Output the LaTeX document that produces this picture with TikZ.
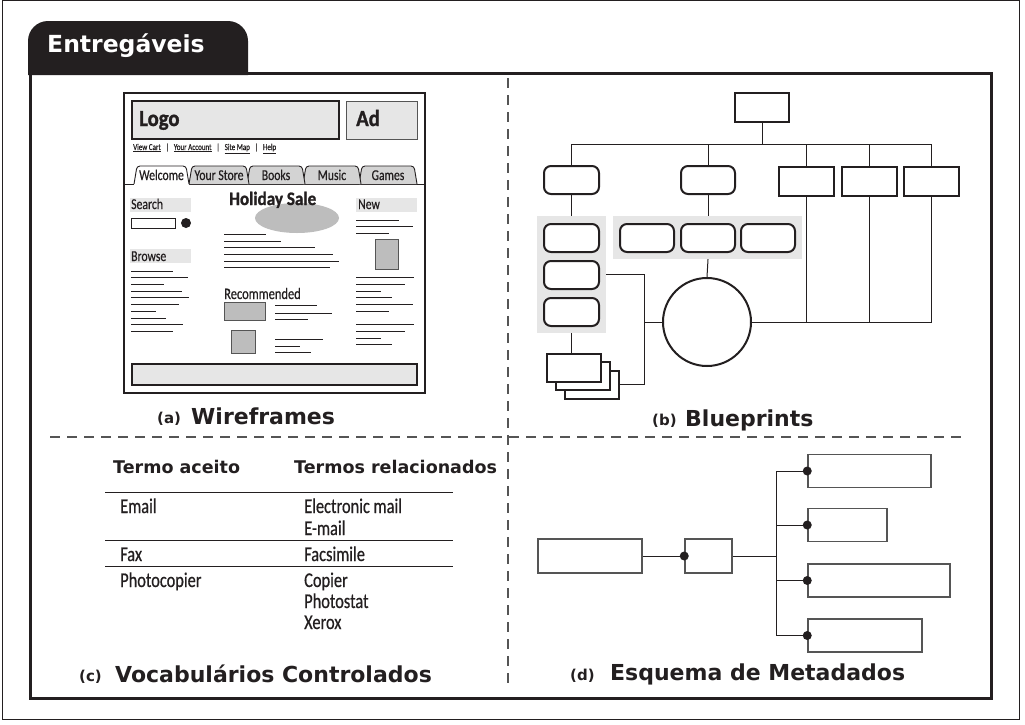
\documentclass[tikz,border=0pt]{standalone}
\usepackage{fontspec}
\setmainfont{DejaVu Sans}
\newfontfamily\cf{Carlito}[FakeStretch=0.78, FakeBold=0.5]
\newfontfamily\cfb{Carlito}[FakeStretch=0.9, BoldFeatures={FakeBold=1.2}]
\definecolor{ink}{HTML}{231F20}
\definecolor{lgray}{HTML}{E6E6E6}
\definecolor{mgray}{HTML}{BDBDBD}
\definecolor{tgray}{HTML}{D3D3D3}
\definecolor{dgray}{HTML}{555555}
\newcommand\fs[1]{\fontsize{#1}{#1}\selectfont}
\newcommand\wftab[5]{%
  \draw[ink, line width=0.9pt, fill=#3, rounded corners=3pt] (#1,184) -- (#1+3,166) -- (#2-3,166) -- (#2,184);
  \node[tablbl] (#5) at ({(#1+#2)/2},180) {#4};}
\newcommand\lsep{\hspace{0.55em}|\hspace{0.55em}}
\begin{document}
\begin{tikzpicture}[x=1pt,y=-1pt,
  captxt/.style={font=\bfseries\fs{22}, anchor=base west, inner sep=0pt, text=ink},
  capl/.style={font=\bfseries\fs{15}, anchor=base west, inner sep=0pt, text=ink},
  hdr/.style={font=\bfseries\fs{17.5}, anchor=base west, inner sep=0pt, text=ink},
  cell/.style={font=\cf\fs{21}, anchor=base west, inner sep=0pt, text=ink},
  wtxt/.style={font=\cf\fs{15}, anchor=base west, inner sep=0pt, text=ink},
  tablbl/.style={font=\cf\fs{15}, anchor=base, inner sep=0pt, text=ink},
  wl/.style={ink, line width=1pt},
  conn/.style={ink, line width=1pt},
  bpbox/.style={draw=ink, line width=2pt, fill=white, minimum width=54pt, minimum height=28pt, inner sep=0pt},
  bpround/.style={bpbox, rounded corners=7pt},
  panel/.style={fill=lgray, draw=none, inner sep=0pt},
  mdbox/.style={draw=dgray, line width=1.5pt, fill=white, minimum height=33pt, inner sep=0pt},
  mdot/.style={circle, fill=ink, inner sep=0pt, minimum size=9pt},
  sep/.style={dgray, line width=1.5pt, dash pattern=on 10pt off 7pt}]
\useasboundingbox (0,0) rectangle (1025,724);
\fill[white] (0,0) rectangle (1025,724);
% outer border
\draw[ink, line width=1pt] (2,0.8) rectangle (1019.5,719.5);
% tab
\fill[ink] (28,75) -- (28,41) arc[start angle=180, end angle=90, radius=20pt] -- (228,21) arc[start angle=90, end angle=0, radius=20pt] -- (248,75) -- cycle;
\node[font=\bfseries\fs{23.5}, text=white, anchor=base west, inner sep=0pt] (title) at (47,52) {Entregáveis};
% main frame
\draw[ink, line width=3pt] (30,73) rectangle (991,698);
% separators
\coordinate (vt) at (508,78);
\coordinate (vb) at (508,690);
\coordinate (hl) at (50,437);
\coordinate (hr) at (968,437);
\draw[sep] (vt) -- (vb);
\draw[sep] (hl) -- (hr);

% ===== (a) Wireframe =====
\draw[ink, line width=2.5pt, fill=white] (124,93) rectangle (425,393);
\draw[ink, line width=1.5pt, fill=lgray] (132,101) rectangle (339,139);
\node[font=\cfb\bfseries\fs{23}, anchor=base west, inner sep=0pt, text=ink] (logo) at (139,126) {Logo};
\draw[dgray, line width=1pt, fill=lgray] (346,101) rectangle (417,139);
\node[font=\cfb\bfseries\fs{23}, anchor=base west, inner sep=0pt, text=ink] (ad) at (356,126) {Ad};
\node[font=\cf\fs{9}, anchor=base west, inner sep=0pt, text=ink] (links) at (133,150)
  {\underline{View Cart}\lsep\underline{Your Account}\lsep\underline{Site Map}\lsep\underline{Help}};
\draw[wl] (124,184) -- (134,184);
\draw[wl] (189,184) -- (425,184);
\wftab{359}{417}{tgray}{Games}{tgames}
\wftab{303}{361}{tgray}{Music}{tmusic}
\wftab{247}{305}{tgray}{Books}{tbooks}
\wftab{189}{249}{tgray}{Your Store}{tstore}
\wftab{134}{189}{white}{Welcome}{twelcome}
% left column
\fill[lgray] (130,198) rectangle (191,212);
\node[wtxt] (search) at (131,209) {Search};
\draw[ink, line width=1pt] (131,218) rectangle (175,228);
\fill[ink] (186,223) circle[radius=5pt];
\fill[lgray] (130,249) rectangle (191,263);
\node[wtxt] (browse) at (131,261) {Browse};
\foreach \y/\e in {271/173,277/188,284/164,291/182,297/189,304/179,311/156,318/166,324/183,331/173}
  \draw[wl] (131,\y) -- (\e,\y);
% centre column
\fill[mgray] (297,218) ellipse[x radius=42pt, y radius=15pt];
\node[font=\cfb\bfseries\fs{19}, anchor=base west, inner sep=0pt, text=ink] (sale) at (229,205) {Holiday Sale};
\foreach \y/\e in {234/266,241/281,247/315,254/333,261/339,267/330}
  \draw[wl] (224,\y) -- (\e,\y);
\node[font=\cf\fs{16}, anchor=base west, inner sep=0pt, text=ink] (recom) at (224,299) {Recommended};
\draw[dgray, line width=1pt, fill=mgray] (224,302) rectangle (265,320);
\draw[dgray, line width=1pt, fill=mgray] (231,330) rectangle (255,353);
\foreach \y/\e in {305/317,313/332,319/308,339/323,346/300,352/311}
  \draw[wl] (275,\y) -- (\e,\y);
% right column
\fill[lgray] (356,198) rectangle (417,212);
\node[wtxt] (new) at (358,209) {New};
\foreach \y/\e in {220/399,226/413,233/389,277/414,284/405,291/381,297/392,304/413,311/389,324/414,331/405,338/381,344/392}
  \draw[wl] (356,\y) -- (\e,\y);
\draw[dgray, line width=1pt, fill=mgray] (375,239) rectangle (398,269);
% footer
\draw[ink, line width=1.2pt, fill=lgray] (132,364) rectangle (417,385);
\node[capl] (capa) at (157,423) {(a)};
\node[captxt] (capat) at (191,424) {Wireframes};

% ===== (b) Blueprints =====
\node[panel, minimum width=69pt, minimum height=117pt] (lpanel) at (571.5,274.5) {};
\node[panel, minimum width=189pt, minimum height=43pt] (mpanel) at (707.5,237.5) {};
\node[bpbox, minimum height=29pt] (top) at (762,107.5) {};
\node[bpround, minimum width=55pt] (rb1) at (571.5,180) {};
\node[bpround] (rb2) at (708,180) {};
\node[bpbox, minimum width=55pt, minimum height=29pt] (rc1) at (806.5,181.5) {};
\node[bpbox, minimum width=55pt, minimum height=29pt] (rc2) at (869,181.5) {};
\node[bpbox, minimum width=55pt, minimum height=29pt] (rc3) at (931,181.5) {};
\node[bpround, minimum width=55pt] (l1) at (571.5,238) {};
\node[bpround, minimum width=55pt] (l2) at (571.5,275) {};
\node[bpround, minimum width=55pt] (l3) at (571.5,312) {};
\node[bpround] (m1) at (647,238) {};
\node[bpround] (m2) at (708,238) {};
\node[bpround] (m3) at (768,238) {};
\node[circle, draw=ink, line width=2pt, fill=white, minimum size=88pt, inner sep=0pt] (circ) at (707,322) {};
\node[bpbox] (s3) at (591.5,384.5) {};
\node[bpbox] (s2) at (583,376) {};
\node[bpbox] (s1) at (574,368) {};
\coordinate (bus) at (0,144);
\coordinate (j) at (644,322);
\draw[conn] (top.south) -- (top |- bus);
\draw[conn] (rb1 |- bus) -- (rc3 |- bus);
\draw[conn] (rb1 |- bus) -- (rb1.north);
\draw[conn] (rb2 |- bus) -- (rb2.north);
\draw[conn] (rc1 |- bus) -- (rc1.north);
\draw[conn] (rc2 |- bus) -- (rc2.north);
\draw[conn] (rc3 |- bus) -- (rc3.north);
\draw[conn] (rb1.south) -- (lpanel.north);
\draw[conn] (rb2.south) -- (rb2 |- mpanel.north);
\draw[conn] (mpanel.south -| rb2) -- (circ.north);
\draw[conn] (lpanel.south) -- (lpanel.south |- s1.north);
\draw[conn] (lpanel.east) -- (lpanel.east -| j) -- (j |- s3.east) -- (s3.east);
\draw[conn] (j) -- (circ.west);
\draw[conn] (circ.east) -- (rc3 |- circ.east) -- (rc3.south);
\draw[conn] (rc1.south) -- (rc1 |- circ.east);
\draw[conn] (rc2.south) -- (rc2 |- circ.east);
\node[capl] (capb) at (652,425) {(b)};
\node[captxt] (capbt) at (685,426) {Blueprints};

% ===== (c) Vocabulary table =====
\node[hdr] (h1) at (113,473) {Termo aceito};
\node[hdr] (h2) at (294,473) {Termos relacionados};
\coordinate (r0l) at (105,492); \coordinate (r0r) at (453,492);
\coordinate (r1l) at (105,540); \coordinate (r1r) at (453,540);
\coordinate (r2l) at (105,566); \coordinate (r2r) at (453,566);
\draw[conn] (r0l) -- (r0r);
\draw[conn] (r1l) -- (r1r);
\draw[conn] (r2l) -- (r2r);
\node[cell] (c1) at (120,513) {Email};
\node[cell] (c2) at (304,513) {Electronic mail};
\node[cell] (c3) at (304,535) {E-mail};
\node[cell] (c4) at (120,561) {Fax};
\node[cell] (c5) at (304,561) {Facsimile};
\node[cell] (c6) at (120,587) {Photocopier};
\node[cell] (c7) at (304,587) {Copier};
\node[cell] (c8) at (304,608) {Photostat};
\node[cell] (c9) at (304,629) {Xerox};
\node[capl] (capc) at (79,681) {(c)};
\node[captxt] (capct) at (115,682) {Vocabulários Controlados};

% ===== (d) Metadata schema =====
\node[mdbox, minimum width=104pt, minimum height=34pt] (ma) at (590,556) {};
\node[mdbox, minimum width=47pt, minimum height=34pt] (mb) at (708.5,556) {};
\node[mdbox, minimum width=123pt] (b1) at (869.5,471) {};
\node[mdbox, minimum width=79pt] (b2) at (847.5,525) {};
\node[mdbox, minimum width=142pt] (b3) at (879,580.5) {};
\node[mdbox, minimum width=114pt] (b4) at (865,635.5) {};
\coordinate (mbus) at (776,0);
\draw[conn] (ma.east) -- (mb.west);
\draw[conn] (mb.east) -- (mb.east -| mbus);
\draw[conn] (b1.west -| mbus) -- (b4.west -| mbus);
\draw[conn] (b1.west -| mbus) -- (b1.west);
\draw[conn] (b2.west -| mbus) -- (b2.west);
\draw[conn] (b3.west -| mbus) -- (b3.west);
\draw[conn] (b4.west -| mbus) -- (b4.west);
\node[mdot] (d0) at (mb.west) {};
\node[mdot] (d1) at (b1.west) {};
\node[mdot] (d2) at (b2.west) {};
\node[mdot] (d3) at (b3.west) {};
\node[mdot] (d4) at (b4.west) {};
\node[capl] (capd) at (570,680) {(d)};
\node[captxt] (capdt) at (610,680) {Esquema de Metadados};
\end{tikzpicture}
\end{document}
